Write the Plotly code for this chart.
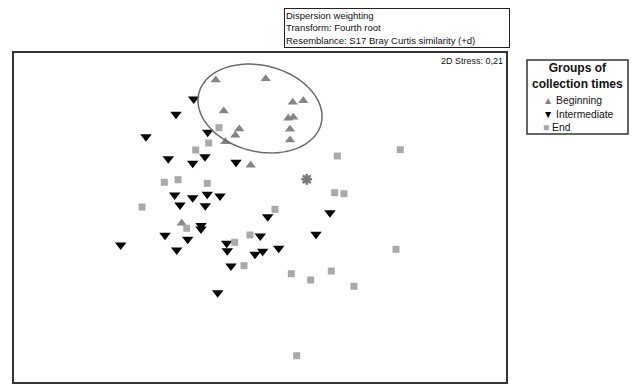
import numpy as np
import plotly.graph_objects as go

# nMDS ordination coordinates (arbitrary units; y grows downward)
beg_x = [215.7, 265.7, 292.7, 303.3, 288.3, 293.3, 290.0, 290.0, 223.7, 239.3, 235.3, 225.3, 250.7, 181.7]
beg_y = [80.0, 78.7, 102.3, 100.7, 118.3, 117.3, 129.3, 140.0, 111.0, 129.0, 135.3, 141.7, 165.3, 223.3]

int_x = [193.7, 176.0, 146.0, 207.7, 168.3, 192.7, 205.0, 236.0, 174.7, 192.7, 207.3, 220.0, 180.0, 205.3,
         267.7, 330.0, 120.7, 165.0, 187.7, 176.7, 201.0, 201.0, 226.7, 227.3, 260.3, 255.0, 262.7, 278.7,
         316.0, 231.0, 217.7]
int_y = [99.0, 114.3, 136.7, 132.3, 158.7, 163.3, 156.7, 162.3, 195.0, 197.7, 194.3, 196.0, 205.0, 205.7,
         216.7, 212.7, 245.0, 235.3, 239.3, 250.0, 225.5, 229.0, 243.3, 250.7, 236.0, 254.3, 251.3, 248.3,
         234.3, 266.0, 292.7]

end_x = [219.0, 208.7, 195.7, 337.3, 164.3, 178.0, 207.3, 334.7, 344.0, 142.0, 275.0, 186.7, 250.0, 234.7,
         244.0, 291.3, 310.7, 331.3, 354.0, 396.0, 296.7, 400.3]
end_y = [127.7, 143.0, 150.0, 156.0, 182.3, 179.7, 183.3, 192.7, 193.7, 207.0, 209.3, 228.3, 235.0, 242.3,
         265.7, 273.7, 280.0, 271.0, 286.3, 249.3, 355.7, 149.7]

star_x = [306.7]
star_y = [179.3]

# Group ellipse (centre, semi-axes, tilt in degrees)
ell_cx, ell_cy, ell_a, ell_b, ell_deg = 260.0, 108.5, 63.0, 43.0, 14.0

group_names = ["Beginning", "Intermediate", "End"]
group_colors = ["#858585", "#050505", "#a9a9a9"]
group_glyphs = ["▲", "▼", "■"]
legend_title = "Groups of<br>collection times"
stress_label = "2D Stress: 0,21"
info_lines = ["Dispersion weighting", "Transform: Fourth root",
              "Resemblance: S17 Bray Curtis similarity (+d)"]

FONT = "Liberation Sans, Arial, sans-serif"
W, H = 634, 387
L, R, T, B = 13, 507, 52, 383   # plot frame in pixels


def px(xp):
    return (xp - L) / (R - L)


def py(yp):
    return (B - yp) / (B - T)


fig = go.Figure()
fig.add_trace(go.Scatter(x=beg_x, y=beg_y, mode="markers", name=group_names[0], showlegend=False,
                         marker=dict(symbol="triangle-up", size=9, color=group_colors[0])))
fig.add_trace(go.Scatter(x=int_x, y=int_y, mode="markers", name=group_names[1], showlegend=False,
                         marker=dict(symbol="triangle-down", size=10, color=group_colors[1])))
fig.add_trace(go.Scatter(x=end_x, y=end_y, mode="markers", name=group_names[2], showlegend=False,
                         marker=dict(symbol="square", size=7, color=group_colors[2])))
fig.add_trace(go.Scatter(x=star_x, y=star_y, mode="markers", showlegend=False,
                         marker=dict(symbol="asterisk-open", size=9, color="#7a7a7a",
                                     line=dict(color="#7a7a7a", width=2.5))))

t = np.linspace(0, 2 * np.pi, 120)
th = np.deg2rad(ell_deg)
ex = ell_cx + ell_a * np.cos(t) * np.cos(th) - ell_b * np.sin(t) * np.sin(th)
ey = ell_cy + ell_a * np.cos(t) * np.sin(th) + ell_b * np.sin(t) * np.cos(th)
path = "M " + " L ".join(f"{a:.2f},{b:.2f}" for a, b in zip(ex, ey)) + " Z"
fig.add_shape(type="path", path=path, xref="x", yref="y",
              line=dict(color="#6a6a6a", width=1.5))

# stress label
fig.add_annotation(text=stress_label, xref="paper", yref="paper", x=px(505), y=py(54),
                   xanchor="right", yanchor="top", showarrow=False,
                   font=dict(family=FONT, size=9, color="#111"))

# info box above the plot
fig.add_annotation(text="<br>".join(info_lines), xref="paper", yref="paper",
                   x=px(284), y=py(8), xanchor="left", yanchor="top",
                   align="left", showarrow=False, bordercolor="#222", borderwidth=1,
                   borderpad=1, bgcolor="white", width=222,
                   font=dict(family=FONT, size=9.5, color="#111"))

# legend drawn as a boxed block
fig.add_shape(type="rect", xref="paper", yref="paper", x0=px(527), x1=px(628), y0=py(134), y1=py(60),
              line=dict(color="#333", width=1.5), fillcolor="white", layer="below")
fig.add_annotation(text="<b>" + legend_title + "</b>", xref="paper", yref="paper",
                   x=px(577.5), y=py(60), xanchor="center", yanchor="top", align="center",
                   showarrow=False, borderpad=0, font=dict(family=FONT, size=12, color="#111"))
item_y = [100.5, 114.0, 127.5]
for g, c, n, yy in zip(group_glyphs, group_colors, group_names, item_y):
    fig.add_annotation(text=f"<span style='color:{c}'>{g}</span>\u00a0{n}",
                       xref="paper", yref="paper", x=px(542), y=py(yy),
                       xanchor="left", yanchor="middle", align="left", showarrow=False,
                       borderpad=0, font=dict(family=FONT, size=10.3, color="#111"))

fig.update_layout(
    width=W, height=H,
    margin=dict(l=L, r=W - R, t=T, b=H - B, autoexpand=False),
    paper_bgcolor="white", plot_bgcolor="white",
    xaxis=dict(range=[L, R], visible=False, showgrid=False, zeroline=False),
    yaxis=dict(range=[B, T], visible=False, showgrid=False, zeroline=False),
    showlegend=False,
)
fig.add_shape(type="rect", xref="paper", yref="paper", x0=0, y0=0, x1=1, y1=1,
              line=dict(color="#333", width=2))

fig.write_html("out.html")
